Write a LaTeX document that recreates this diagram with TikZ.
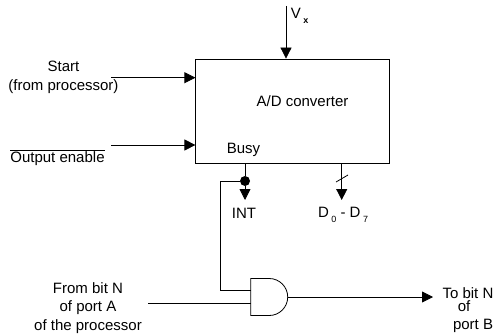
\documentclass[tikz,border=0pt]{standalone}
\usepackage{fontspec}
\setmainfont{Liberation Sans}
\usepackage{tikz}
\usetikzlibrary{arrows.meta,positioning}
\newcommand{\lowsub}[1]{\,\raisebox{-4.5pt}{\fontsize{9}{9}\selectfont #1}}
\tikzset{
  conv/.style={draw,line width=0.8pt,minimum width=194pt,minimum height=104pt,inner sep=0pt},
  andgate/.style={line width=0.8pt,minimum width=37pt,minimum height=37pt,inner sep=0pt,outer sep=0pt},
  sig/.style={-{Triangle[length=11pt,width=11pt]},line width=0.8pt},
  wire/.style={line width=0.8pt},
  lbl/.style={font=\fontsize{15}{18.5}\selectfont,align=center,inner sep=0pt},
  joint/.style={circle,fill=black,inner sep=0pt,minimum size=10pt}
}
\begin{document}
\begin{tikzpicture}[x=1pt,y=-1pt]
  \useasboundingbox (0,0) rectangle (494,334);
  \node[conv] (adc) at (292.8,111) {};
  \node[lbl] (title) at (302.5,101) {A/D converter};
  \node[lbl] (busy) at (243.5,150) {Busy};
  \node[lbl] (vx) at (299.5,16) {V\lowsub{\textbf{x}}};
  \node[lbl] (start) at (63.5,77.5) {Start\\(from processor)};
  \node[lbl] (oe) at (57.5,158) {$\overline{\mbox{Output enable}}$};
  \node[lbl] (int) at (244,213) {INT};
  \node[lbl] (data) at (343,215) {D\lowsub{0} - D\lowsub{7}};
  \node[lbl] (portA) at (88,308) {From bit N\\of port A\\of the processor};
  \node[lbl] (bitN) at (468,293) {To bit N};
  \node[lbl] (of) at (464,306) {of};
  \node[lbl] (portB) at (473,326) {port B};
  \node[andgate] (gate) at (269.2,297) {};
  \node[joint] (dot) at (245,181) {};
  \coordinate (startin) at (111,77.7);
  \coordinate (oein) at (111,145);
  \coordinate (vxin) at (286,6);
  \coordinate (portAin) at (148,303);
  \coordinate (intend) at (245,200);
  \coordinate (dataend) at (341.7,200);
  \coordinate (portBout) at (433,297);
  \coordinate (wirebend) at (220.7,290);
  \coordinate (slashA) at (336,182);
  \coordinate (slashB) at (348,175);
  \draw[wire] (gate.north west) -- (gate.north) arc[start angle=90,end angle=-90,radius=18.5pt] -- (gate.south west) -- cycle;
  \draw[sig] (startin) -- (adc.west |- startin);
  \draw[sig] (oein) -- (adc.west |- oein);
  \draw[sig] (vxin) -- (adc.north -| vxin);
  \draw[wire] (adc.south -| dot) -- (dot);
  \draw[sig] (dot) -- (intend);
  \draw[sig] (adc.south -| dataend) -- (dataend);
  \draw[wire] (slashA) -- (slashB);
  \draw[wire] (dot) -| (wirebend) -- (wirebend -| gate.west);
  \draw[wire] (portAin) -- (portAin -| gate.west);
  \draw[sig] (gate.east) -- (portBout);
\end{tikzpicture}
\end{document}
